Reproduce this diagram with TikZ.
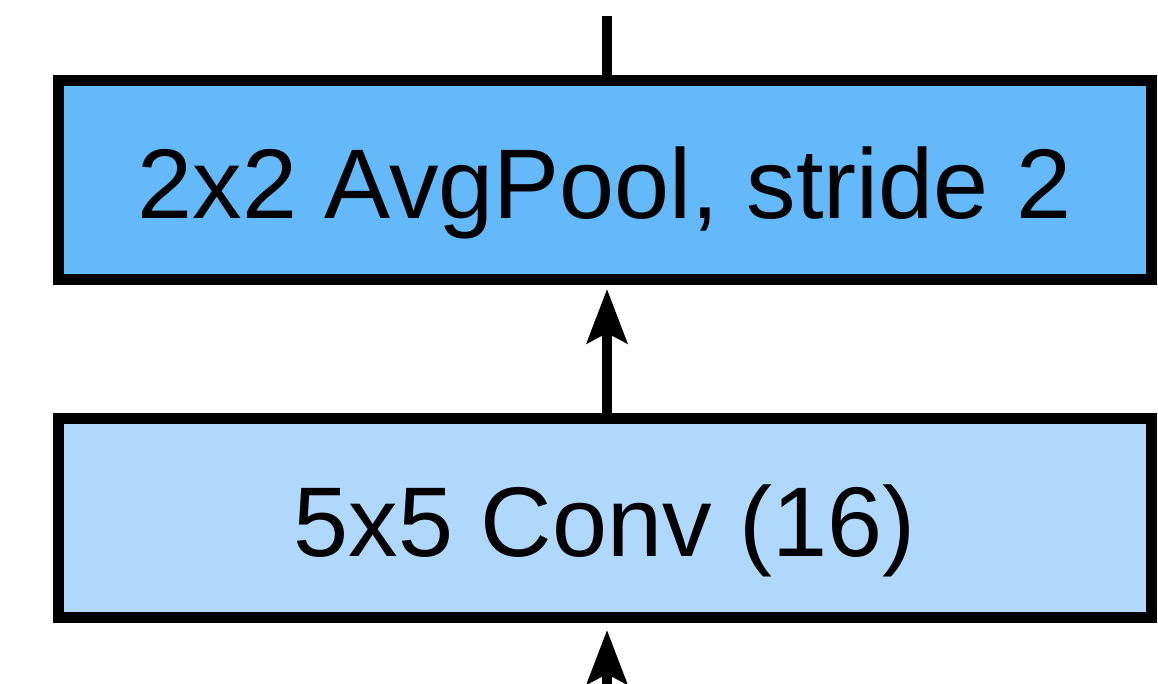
\documentclass[tikz,border=0pt]{standalone}
\usepackage{fontspec}
\setmainfont{Liberation Sans}
\usetikzlibrary{arrows.meta}
\definecolor{poolblue}{RGB}{100,185,250}
\definecolor{convblue}{RGB}{176,215,252}
\tikzset{
  layer/.style={draw=black, line width=11pt, minimum width=1093.5pt,
    minimum height=199pt, inner sep=0pt, text height=77pt, text depth=0pt,
    font=\fontsize{99}{110}\selectfont},
  link/.style={line width=10pt, draw=black},
  uparrow/.style={link, -{Stealth[length=54pt,width=40pt,inset=10pt]}}
}
\begin{document}
\begin{tikzpicture}[x=1pt,y=-1pt]
  \useasboundingbox (0,0) rectangle (1158,684);
  % the two layers of the block
  \node[layer, fill=poolblue] (pool) at (604.75,180)
    {2x2 AvgPool, stride 2};
  \node[layer, fill=convblue] (conv) at (604.75,518)
    {5x5 Conv (16)};
  % free ends of the connectors above and below
  \coordinate (out) at (607,16);
  \coordinate (in) at (607,730);
  \draw[link] ([xshift=2.25pt]pool.north) -- (out);
  \draw[uparrow] ([xshift=2.25pt]conv.north) -- ([xshift=2.25pt,yshift=-4pt]pool.south);
  \draw[uparrow] (in) -- ([xshift=2.25pt,yshift=-7pt]conv.south);
\end{tikzpicture}
\end{document}
